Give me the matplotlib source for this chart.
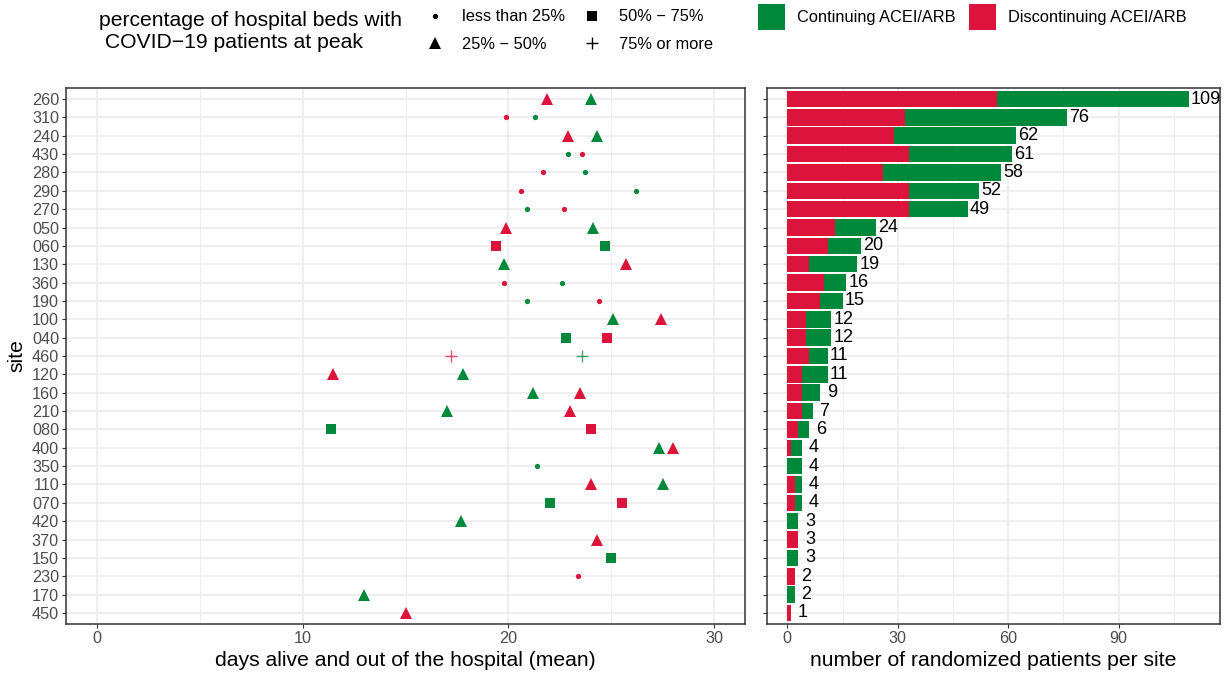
import numpy as np
import matplotlib
matplotlib.use("Agg")
import matplotlib.pyplot as plt
from matplotlib.lines import Line2D
from matplotlib.patches import Patch

plt.rcParams['font.family'] = ['Liberation Sans', 'DejaVu Sans']

## data, top row first
sites = ["260", "310", "240", "430", "280", "290", "270", "050", "060", "130",
         "360", "190", "100", "040", "460", "120", "160", "210", "080", "400",
         "350", "110", "070", "420", "370", "150", "230", "170", "450"]
# percentage of beds with covid patients at peak
beds = ["25-50", "<25", "25-50", "<25", "<25", "<25", "<25", "25-50", "50-75", "25-50",
        "<25", "<25", "25-50", "50-75", "75+", "25-50", "25-50", "25-50", "50-75", "25-50",
        "<25", "25-50", "50-75", "25-50", "25-50", "50-75", "<25", "25-50", "25-50"]
n_cont = [52, 44, 33, 28, 32, 19, 16, 11, 9, 13,
          6, 6, 7, 7, 5, 7, 5, 3, 3, 3,
          4, 2, 2, 3, 0, 3, 0, 2, 0]
n_disc = [57, 32, 29, 33, 26, 33, 33, 13, 11, 6,
          10, 9, 5, 5, 6, 4, 4, 4, 3, 1,
          0, 2, 2, 0, 3, 0, 2, 0, 1]
nan = np.nan
days_cont = [24.0, 21.3, 24.3, 22.9, 23.7, 26.2, 20.9, 24.1, 24.7, 19.8,
             22.6, 20.9, 25.1, 22.8, 23.6, 17.8, 21.2, 17.0, 11.4, 27.3,
             21.4, 27.5, 22.0, 17.7, nan, 25.0, nan, 13.0, nan]
days_disc = [21.9, 19.9, 22.9, 23.6, 21.7, 20.6, 22.7, 19.9, 19.4, 25.7,
             19.8, 24.4, 27.4, 24.8, 17.2, 11.5, 23.5, 23.0, 24.0, 28.0,
             nan, 24.0, 25.5, nan, 24.3, nan, 23.4, nan, 15.0]

bed_levels = ["<25", "25-50", "50-75", "75+"]
bed_labels = ["less than 25%", "25% \u2212 50%", "50% \u2212 75%", "75% or more"]
# marker, size(pt)
shape_style = {"<25": ("o", 3.8), "25-50": ("^", 8.0), "50-75": ("s", 7.0), "75+": ("+", 8.5)}

GREEN = "#00893B"
RED = "#DC143C"
TICK_C = "#4D4D4D"
FRAME_C = "#333333"
GRID_C = "#EBEBEB"

W, H = 1225, 677
fig = plt.figure(figsize=(W / 100, H / 100), dpi=100)

def px_box(x0, y0, x1, y1):
    return [x0 / W, 1 - y1 / H, (x1 - x0) / W, (y1 - y0) / H]

ax1 = fig.add_axes(px_box(66, 88, 745, 624))
ax2 = fig.add_axes(px_box(767, 88, 1220, 624))

ypos = np.arange(len(sites))[::-1]
nsite = len(sites)

def style_axes(ax):
    for sp in ax.spines.values():
        sp.set_color(FRAME_C)
        sp.set_linewidth(1.1)
    ax.set_axisbelow(True)
    ax.grid(True, which='major', color=GRID_C, linewidth=1.1)
    ax.grid(True, which='minor', axis='x', color=GRID_C, linewidth=0.6)
    ax.tick_params(axis='both', which='major', length=3, width=0.8, color=FRAME_C,
                   labelcolor=TICK_C, labelsize=11.7, pad=2)
    ax.tick_params(axis='both', which='minor', length=0)
    ax.set_ylim(-0.6, nsite - 0.4)
    ax.set_yticks(ypos)

## left panel: mean days
style_axes(ax1)
ax1.set_yticklabels(sites)
ax1.set_xlim(-1.5, 31.5)
ax1.set_xticks([0, 10, 20, 30])
ax1.set_xticks([5, 15, 25], minor=True)

bed_arr = np.array(beds)
for vals, col in [(days_cont, GREEN), (days_disc, RED)]:
    vals = np.array(vals)
    for lvl in bed_levels:
        m = bed_arr == lvl
        mk, ms = shape_style[lvl]
        ax1.plot(vals[m], ypos[m], linestyle='none', marker=mk, markersize=ms,
                 color=col, markeredgewidth=1.0 if mk == '+' else 0,
                 alpha=0.75 if mk == '+' else 1.0)

ax1.set_xlabel("days alive and out of the hospital (mean)", fontsize=15.2, labelpad=4)
ax1.set_ylabel("site", fontsize=15.2, labelpad=4)

## right panel: stacked counts
style_axes(ax2)
ax2.set_yticklabels([])
ax2.set_xlim(-5.5, 117.5)
ax2.set_xticks([0, 30, 60, 90])
ax2.set_xticks([15, 45, 75, 105], minor=True)

n_disc = np.array(n_disc)
n_cont = np.array(n_cont)
tot = n_disc + n_cont
ax2.barh(ypos, n_disc, height=0.9, color=RED, linewidth=0)
ax2.barh(ypos, n_cont, left=n_disc, height=0.9, color=GREEN, linewidth=0)
for y, t in zip(ypos, tot):
    ax2.text(t + 0.6, y, f"{t:>2}", ha='left', va='center', fontsize=13, color='black')

ax2.set_xlabel("number of randomized patients per site", fontsize=15.2, labelpad=4)

## legends
fig.text(99 / W, 1 - 31.5 / H, "percentage of hospital beds with\n COVID\u221219 patients at peak",
         fontsize=15.2, ha='left', va='center', linespacing=1.2)

shape_handles = [Line2D([], [], linestyle='none', marker=shape_style[l][0],
                        markersize=shape_style[l][1],
                        color='black', markeredgewidth=1.0 if l == "75+" else 0)
                 for l in bed_levels]
leg1 = fig.legend(shape_handles, bed_labels, ncol=2, loc='center left',
                  bbox_to_anchor=(427 / W, 1 - 30.5 / H), frameon=False, fontsize=11.8,
                  handlelength=1.0, handletextpad=1.13, columnspacing=1.15,
                  labelspacing=0.75, borderpad=0, borderaxespad=0)

fill_handles = [Patch(color=GREEN, linewidth=0), Patch(color=RED, linewidth=0)]
leg2 = fig.legend(fill_handles, ["Continuing ACEI/ARB", "Discontinuing ACEI/ARB"], ncol=2,
                  loc='center left', bbox_to_anchor=(758 / W, 1 - 16.7 / H), frameon=False,
                  fontsize=11.8, handlelength=1.65, handleheight=2.1, handletextpad=0.73,
                  columnspacing=0.8, borderpad=0, borderaxespad=0)

fig.savefig("out.png", dpi=100)
